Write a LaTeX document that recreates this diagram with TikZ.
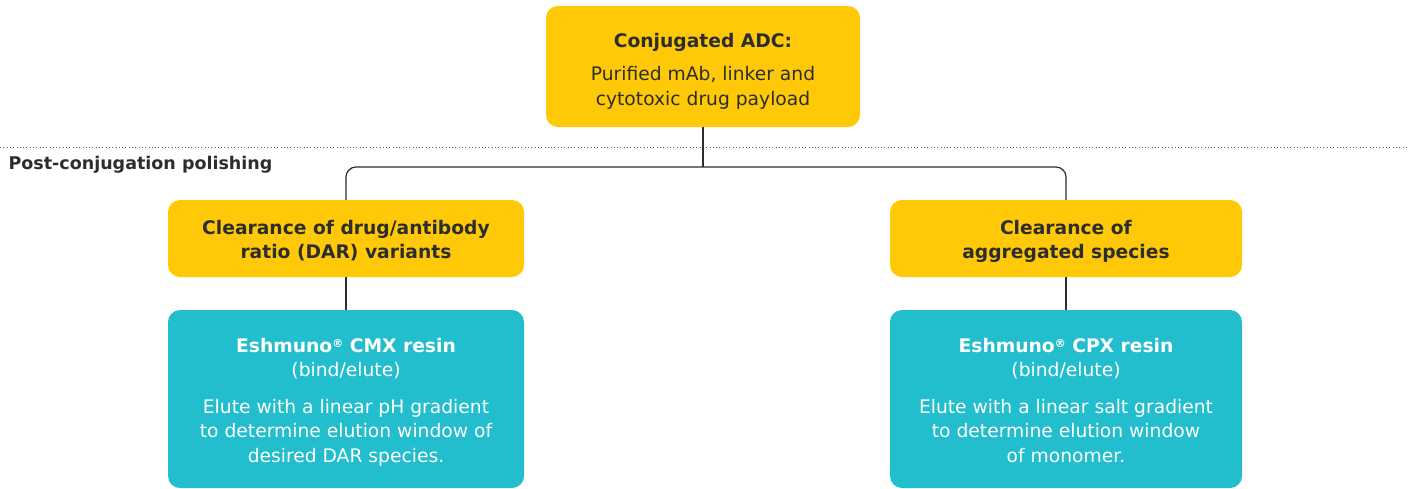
\documentclass[tikz,border=0pt]{standalone}
\usepackage{fontspec}
\setmainfont{DejaVu Sans}
\definecolor{adcyellow}{HTML}{FFC907}
\definecolor{resinteal}{HTML}{22BECD}
\definecolor{inkgray}{HTML}{2D2D2D}
\newcommand{\regmark}{{\fontsize{11}{11}\selectfont\raisebox{5pt}{®}}}
\newcommand{\boxtop}[1]{\rule{0pt}{#1pt}}

\begin{document}
\begin{tikzpicture}[x=1pt,y=-1pt,
  ybox/.style={fill=adcyellow,rounded corners=12pt,align=center,text=inkgray,
    font=\fontsize{18.7}{24.5}\selectfont,execute at end node={\rule[-5pt]{0pt}{0pt}}},
  tbox/.style={fill=resinteal,rounded corners=12pt,align=center,text=white,
    font=\fontsize{18.7}{24.2}\selectfont,minimum width=356pt,minimum height=178pt,
    execute at end node={\rule[-5pt]{0pt}{0pt}}},
  conn/.style={draw=inkgray,line width=1.2pt}]
  \useasboundingbox (0,0) rectangle (1409,488);
  \draw[inkgray!75,line width=0.9pt,dash pattern=on 0.9pt off 2.4pt] (0,147) -- (1409,147);
  \node[anchor=west,text=inkgray,font=\bfseries\fontsize{17.5}{20}\selectfont] (polish) at (5,165) {Post-conjugation polishing};
  \node[ybox,minimum width=314pt,minimum height=121pt,
    font=\fontsize{18.7}{25}\selectfont] (adc) at (703,66.5)
    {\boxtop{24}\textbf{Conjugated ADC:}\\[8pt]Purified mAb, linker and\\cytotoxic drug payload};
  \node[ybox,minimum width=356pt,minimum height=77pt] (dar) at (346,238.5)
    {\boxtop{20.5}\textbf{Clearance of drug/antibody}\\\textbf{ratio (DAR) variants}};
  \node[ybox,minimum width=352pt,minimum height=77pt] (agg) at (1066,238.5)
    {\boxtop{20.5}\textbf{Clearance of}\\\textbf{aggregated species}};
  \node[tbox] (cmx) at (346,399)
    {\boxtop{21.8}\textbf{Eshmuno\regmark\ CMX resin}\\(bind/elute)\\[12.5pt]Elute with a linear pH gradient\\to determine elution window of\\desired DAR species.};
  \node[tbox,minimum width=352pt] (cpx) at (1066,399)
    {\boxtop{21.8}\textbf{Eshmuno\regmark\ CPX resin}\\(bind/elute)\\[12.5pt]Elute with a linear salt gradient\\to determine elution window\\of monomer.};
  \coordinate (bus) at (703,167);
  \draw[conn] (adc.south) -- (bus);
  \draw[conn,rounded corners=10pt] (dar.north) -- (dar.north |- bus) -- (agg.north |- bus) -- (agg.north);
  \draw[conn] (dar.south) -- (cmx.north);
  \draw[conn] (agg.south) -- (cpx.north);
\end{tikzpicture}
\end{document}
